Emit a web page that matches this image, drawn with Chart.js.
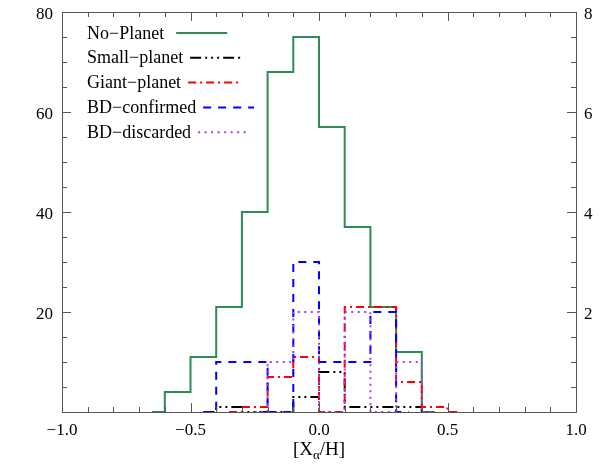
<!DOCTYPE html>
<html>
<head>
<meta charset="utf-8">
<script src="https://cdn.jsdelivr.net/npm/chart.js@4.4.1/dist/chart.umd.min.js"></script>
<style>
    html, body { margin: 0; padding: 0; background: #fff; }
</style>
</head>
<body>
<canvas id="histChart" width="606" height="468"></canvas>
<script>
Chart.defaults.font.family = "'Liberation Serif', 'DejaVu Serif', serif";
Chart.defaults.color = "#000";

// bin centres (width 0.1), null = series not drawn there
const binCenters = [-0.65, -0.55, -0.45, -0.35, -0.25, -0.15, -0.05, 0.05, 0.15, 0.25, 0.35, 0.45, 0.55];
const noPlanet    = [0, 4, 11, 21, 40, 68, 75, 57, 37, 21, 12, 0, null];      // left axis
const smallPlanet = [null, null, 0, 0.1, 0, 0, 0.3, 0.8, 0.1, 0.1, 0.1, 0, null]; // right axis
const giantPlanet = [null, null, null, 0, 0.1, 0.7, 1.1, 0, 2.1, 2.1, 0.6, 0.1, 0];
const bdConfirmed = [null, null, 0, 1, 1, 0, 3, 1, 1, 2, 0, null, null];
const bdDiscarded = [null, null, null, null, 0, 1, 2, 0, 2, 0, 1, 0, null];

const seriesLabels = ["No\u2212Planet", "Small\u2212planet", "Giant\u2212planet", "BD\u2212confirmed", "BD\u2212discarded"];
const xTickValues = [-1.0, -0.5, 0.0, 0.5, 1.0];
const leftTickValues = [20, 40, 60, 80];
const rightTickValues = [2, 4, 6, 8];

const colors = {
    noPlanet: "#2e8b57",
    small: "#000000",
    giant: "#ff0000",
    confirmed: "#0000ff",
    discarded: "#a040f0",
    axis: "#555555",
};

function toPoints(values) {
    return binCenters.map((x, i) => ({ x: x, y: values[i] }));
}

function histSet(label, values, color, dash, axis, order) {
    return {
        label: label,
        data: toPoints(values),
        yAxisID: axis,
        borderColor: color,
        backgroundColor: color,
        borderWidth: 2,
        borderDash: dash,
        stepped: "middle",
        pointRadius: 0,
        fill: false,
        order: order,
    };
}

// inward ticks + box, IDL style
const axisFrame = {
    id: "axisFrame",
    afterDatasetsDraw(chart) {
        const { ctx, chartArea: a, scales } = chart;
        ctx.save();
        ctx.strokeStyle = colors.axis;
        ctx.lineWidth = 1;
        ctx.setLineDash([]);
        ctx.strokeRect(a.left + 0.5, a.top + 0.5, a.right - a.left, a.bottom - a.top);
        const seg = (x1, y1, x2, y2) => {
            ctx.beginPath();
            ctx.moveTo(x1, y1);
            ctx.lineTo(x2, y2);
            ctx.stroke();
        };
        for (let i = -9; i <= 9; i++) {
            const px = Math.round(scales.x.getPixelForValue(i / 10)) + 0.5;
            const len = i % 5 === 0 ? 9 : 5;
            seg(px, a.bottom, px, a.bottom - len);
            seg(px, a.top, px, a.top + len);
        }
        for (let v = 5; v < 80; v += 5) {
            const py = Math.round(scales.y.getPixelForValue(v)) + 0.5;
            seg(a.left, py, a.left + (v % 20 === 0 ? 9 : 5), py);
        }
        for (let k = 1; k < 16; k++) {
            const py = Math.round(scales.y2.getPixelForValue(k / 2)) + 0.5;
            seg(a.right, py, a.right - (k % 4 === 0 ? 9 : 5), py);
        }
        ctx.restore();
    },
};

// legend rows and the x axis title with its subscript
const legendAndTitle = {
    id: "legendAndTitle",
    afterDraw(chart) {
        const ctx = chart.ctx;
        ctx.save();
        ctx.font = "18px 'Liberation Serif'";
        ctx.textBaseline = "alphabetic";
        ctx.textAlign = "left";
        chart.data.datasets.forEach((ds, i) => {
            const y = 38.5 + i * 24.8;
            ctx.fillStyle = "#000";
            ctx.fillText(ds.label, 87, y);
            const x0 = 87 + ctx.measureText(ds.label).width + (i === 0 ? 12 : 7);
            ctx.strokeStyle = ds.borderColor;
            ctx.lineWidth = 2;
            ctx.setLineDash(ds.borderDash);
            ctx.beginPath();
            ctx.moveTo(x0, y - 5.5);
            ctx.lineTo(x0 + 51, y - 5.5);
            ctx.stroke();
        });

        ctx.setLineDash([]);
        ctx.fillStyle = "#000";
        const big = "19px 'Liberation Serif'";
        const small = "13px 'Liberation Serif'";
        const parts = [["[X", big, 0], ["\u03b1", small, 4], ["/H]", big, 0]];
        let total = 0;
        parts.forEach(p => { ctx.font = p[1]; total += ctx.measureText(p[0]).width; });
        const a = chart.chartArea;
        let x = (a.left + a.right) / 2 - total / 2;
        parts.forEach(p => {
            ctx.font = p[1];
            ctx.fillText(p[0], x, 455 + p[2]);
            x += ctx.measureText(p[0]).width;
        });
        ctx.restore();
    },
};

const ctx = document.getElementById("histChart").getContext("2d");
new Chart(ctx, {
    type: "line",
    data: {
        datasets: [
            histSet(seriesLabels[0], noPlanet, colors.noPlanet, [], "y", 5),
            histSet(seriesLabels[1], smallPlanet, colors.small, [11, 4, 2, 4, 2, 4, 2, 4], "y2", 4),
            histSet(seriesLabels[2], giantPlanet, colors.giant, [8, 4, 2, 4], "y2", 3),
            histSet(seriesLabels[3], bdConfirmed, colors.confirmed, [8, 7], "y2", 2),
            histSet(seriesLabels[4], bdDiscarded, colors.discarded, [2, 4.5], "y2", 1),
        ],
    },
    options: {
        responsive: false,
        animation: false,
        devicePixelRatio: 1,
        layout: { padding: { top: 12, left: 0, right: 0, bottom: 0 } },
        plugins: {
            legend: { display: false },
            tooltip: { enabled: false },
        },
        scales: {
            x: {
                type: "linear",
                min: -1,
                max: 1,
                grid: { display: false },
                border: { display: false },
                afterBuildTicks: (scale) => { scale.ticks = xTickValues.map(v => ({ value: v })); },
                afterFit: (scale) => { scale.height = 56; },
                ticks: {
                    padding: 0,
                    maxRotation: 0,
                    font: { size: 17 },
                    callback: (v) => (v < 0 ? "\u2212" : "") + Math.abs(v).toFixed(1),
                },
            },
            y: {
                position: "left",
                min: 0,
                max: 80,
                grid: { display: false },
                border: { display: false },
                afterBuildTicks: (scale) => { scale.ticks = leftTickValues.map(v => ({ value: v })); },
                afterFit: (scale) => { scale.width = 62; },
                ticks: { padding: 1, labelOffset: 3, font: { size: 17 } },
            },
            y2: {
                position: "right",
                min: 0,
                max: 8,
                grid: { display: false },
                border: { display: false },
                afterBuildTicks: (scale) => { scale.ticks = rightTickValues.map(v => ({ value: v })); },
                afterFit: (scale) => { scale.width = 30; },
                ticks: { padding: 0, labelOffset: 3, font: { size: 17 } },
            },
        },
    },
    plugins: [axisFrame, legendAndTitle],
});
</script>
</body>
</html>
